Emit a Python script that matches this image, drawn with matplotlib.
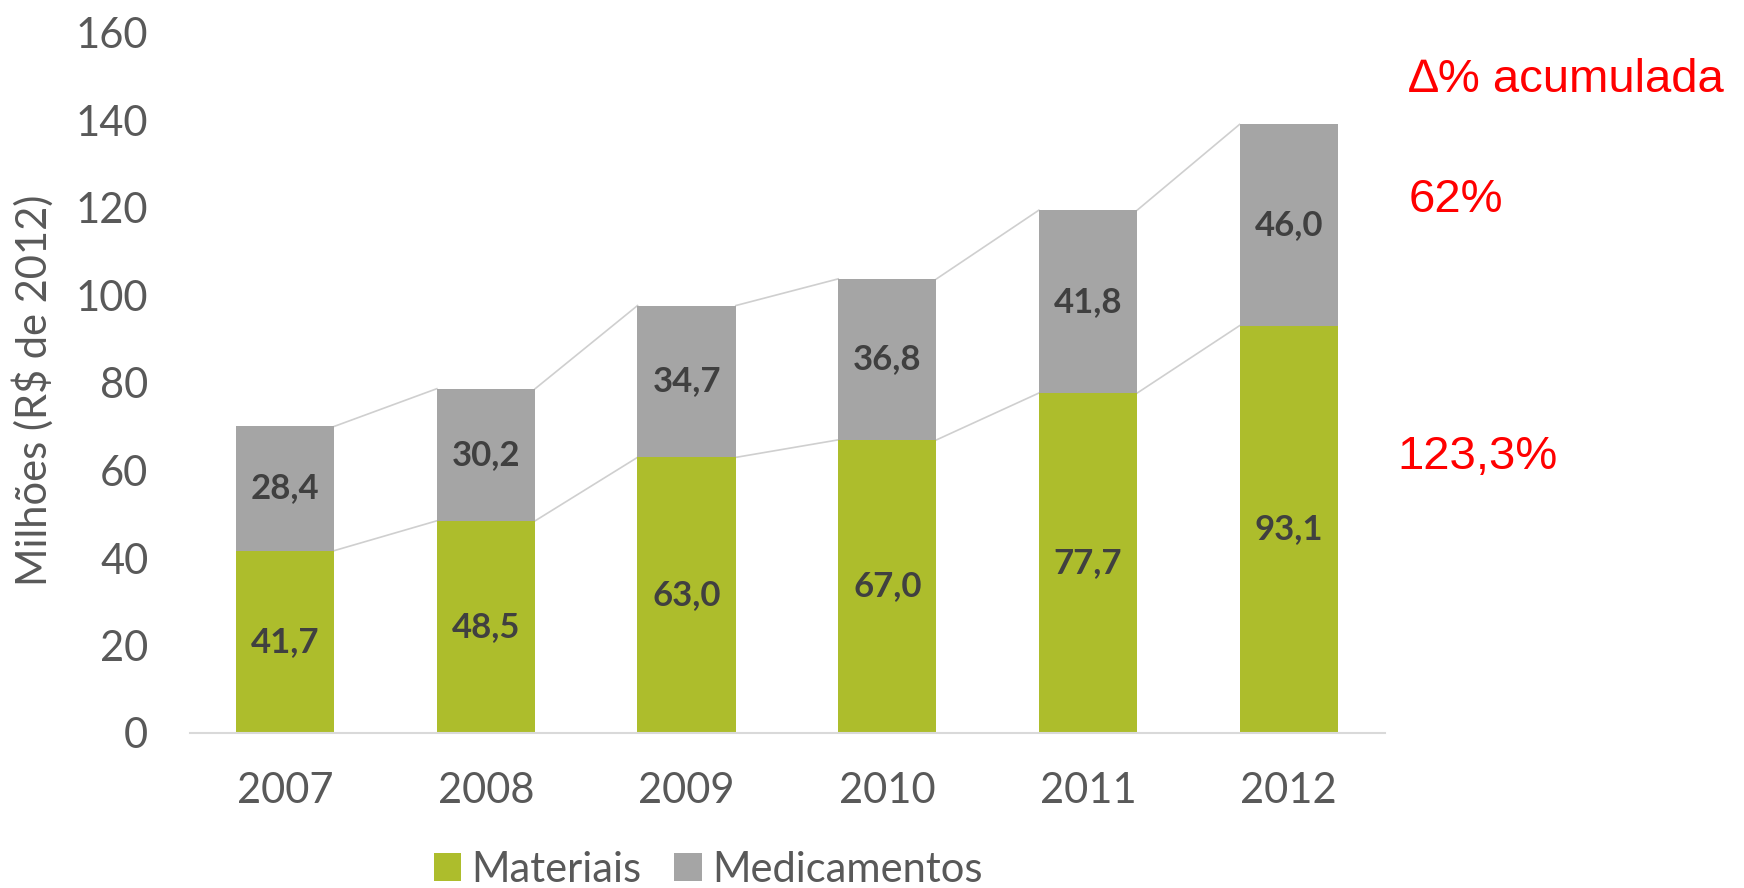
import matplotlib.pyplot as plt
import numpy as np

years = ["2007", "2008", "2009", "2010", "2011", "2012"]
materiais = [41.7, 48.5, 63.0, 67.0, 77.7, 93.1]
medicamentos = [28.4, 30.2, 34.7, 36.8, 41.8, 46.0]
delta_title = "∆% acumulada"
delta_medicamentos = "62%"
delta_materiais = "123,3%"

green = "#adbd2c"
gray = "#a5a5a5"
text_gray = "#595959"
label_dark = "#404040"

plt.rcParams["font.family"] = ["Lato", "DejaVu Sans"]

fig = plt.figure(figsize=(17.44, 8.88), dpi=100)
ax = fig.add_axes([190 / 1744, 1 - 733 / 888, 1195 / 1744, 700 / 888])

x = np.arange(len(years))
mat = np.array(materiais)
med = np.array(medicamentos)
w = 0.49

ax.bar(x, mat, width=w, color=green, label="Materiais", zorder=2)
ax.bar(x, med, width=w, bottom=mat, color=gray, label="Medicamentos", zorder=2)

# connector lines between bar tops
for tops in (mat, mat + med):
    for i in range(len(x) - 1):
        ax.plot([x[i] + w / 2, x[i + 1] - w / 2], [tops[i], tops[i + 1]],
                color="#cfcfcf", lw=1.2, zorder=1)

for i in range(len(x)):
    ax.text(x[i], mat[i] / 2, f"{materiais[i]:.1f}".replace(".", ","),
            ha="center", va="center", fontsize=25, fontweight="bold", color=label_dark)
    ax.text(x[i], mat[i] + med[i] / 2, f"{medicamentos[i]:.1f}".replace(".", ","),
            ha="center", va="center", fontsize=25, fontweight="bold", color=label_dark)

ax.set_xlim(-0.475, 5.48)
ax.set_ylim(0, 160)
ax.set_yticks(range(0, 161, 20))
ax.set_xticks(x)
ax.set_xticklabels(years)
ax.tick_params(axis="both", length=0, labelsize=30, colors=text_gray)
ax.tick_params(axis="y", pad=30)
ax.tick_params(axis="x", pad=28)
for s in ("top", "right", "left"):
    ax.spines[s].set_visible(False)
ax.spines["bottom"].set_color("#d9d9d9")
ax.spines["bottom"].set_linewidth(1.5)

fig.text(33 / 1744, 1 - 390 / 888, "Milhões (R$ de 2012)", rotation=90,
         ha="center", va="center", fontsize=30, color=text_gray)

fig.legend(loc="center", bbox_to_anchor=(708 / 1744, 1 - 870 / 888), ncol=2,
           frameon=False, fontsize=30, handlelength=0.65, handleheight=0.65,
           handletextpad=0.25, columnspacing=0.8, labelcolor=text_gray)

fig.text(1409 / 1744, 1 - 80 / 888, delta_title, color="red", fontsize=34,
         family="Liberation Sans", ha="left", va="center")
fig.text(1409 / 1744, 1 - 200 / 888, delta_medicamentos, color="red", fontsize=34,
         family="Liberation Sans", ha="left", va="center")
fig.text(1397 / 1744, 1 - 457 / 888, delta_materiais, color="red", fontsize=34,
         family="Liberation Sans", ha="left", va="center")

fig.savefig("out.png", dpi=100, facecolor="white")
